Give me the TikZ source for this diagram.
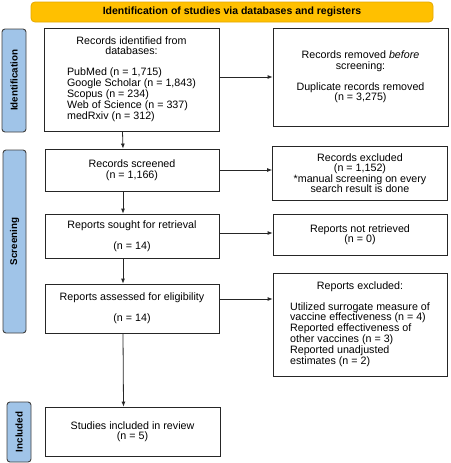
\documentclass[tikz,border=0pt]{standalone}
\usepackage{fontspec}
\setmainfont{Liberation Sans}
\usetikzlibrary{arrows.meta}

\definecolor{amarelo}{RGB}{255,192,0}
\definecolor{amareloborda}{RGB}{228,168,0}
\definecolor{azulfase}{RGB}{160,196,232}

\begin{document}
\begin{tikzpicture}[x=1pt, y=-1pt,
  caixa/.style={draw=black!85, line width=0.8pt, align=center, inner sep=2pt, font=\fontsize{10.7}{10.5}\selectfont},
  fase/.style={draw=black!75, line width=0.9pt, rounded corners=3pt, fill=azulfase, font=\fontsize{9.8}{10}\selectfont\bfseries},
  seta/.style={-{Latex[length=5pt,width=4pt]}, line width=0.8pt, draw=black!85}]
  \useasboundingbox (0,0) rectangle (450,463);

  % Faixa
  \node[draw=amareloborda, line width=0.8pt, rounded corners=4pt, fill=amarelo, minimum width=402pt, minimum height=20pt, font=\fontsize{10.5}{10}\selectfont\bfseries] (titulo) at (232,12) {Identification of studies via databases and registers};

  % Fases
  \node[fase, minimum width=103pt, minimum height=24pt, rotate=90] (fid) at (14,80.5) {Identification};
  \node[fase, minimum width=183pt, minimum height=23pt, rotate=90] (fscr) at (14.5,241.5) {Screening};
  \node[fase, minimum width=60pt, minimum height=24pt, rotate=90] (finc) at (19,432) {Included};

  % Nós
  \node[caixa, minimum width=175pt, minimum height=103pt] (ident) at (131.5,79.5) {Records identified from\\databases:\\[10.5pt]\begin{tabular}[t]{@{}l@{}}PubMed (n = 1,715)\\Google Scholar (n = 1,843)\\Scopus (n = 234)\\Web of Science (n = 337)\\medRxiv (n = 312)\end{tabular}};
  \node[caixa, minimum width=175pt, minimum height=98pt] (removed) at (360.5,77) {Records removed \textit{before}\\screening:\\[10.5pt]Duplicate records removed\\(n = 3,275)};
  \node[caixa, minimum width=174pt, minimum height=42pt] (screened) at (132,170) {Records screened\\(n = 1,166)};
  \node[caixa, minimum width=175pt, minimum height=54pt] (excluded) at (360,173) {Records excluded\\(n = 1,152)\\*manual screening on every\\search result is done};
  \node[caixa, minimum width=174pt, minimum height=44pt] (sought) at (132,236) {Reports sought for retrieval\\[10.5pt](n = 14)};
  \node[caixa, minimum width=174pt, minimum height=41pt] (notret) at (360,234.5) {Reports not retrieved\\(n = 0)};
  \node[caixa, minimum width=174pt, minimum height=49pt] (assessed) at (132,308.5) {Reports assessed for eligibility\\[10.5pt](n = 14)};
  \node[caixa, minimum width=174pt, minimum height=103pt] (rexcl) at (360,324.5) {Reports excluded:\\[10.5pt]\begin{tabular}[t]{@{}l@{}}Utilized surrogate measure of\\vaccine effectiveness (n = 4)\\Reported effectiveness of\\other vaccines (n = 3)\\Reported unadjusted\\estimates (n = 2)\end{tabular}};
  \node[caixa, minimum width=175pt, minimum height=49pt] (included) at (132.5,431.5) {Studies included in review\\(n = 5)};

  % Setas
  \coordinate (s4) at ([yshift=9.5pt]assessed.east);
  \draw[seta] (ident.east |- removed.west) -- (removed.west);
  \draw[seta] (screened.east) -- (screened.east -| excluded.west);
  \draw[seta] ([yshift=3pt]sought.east) -- ([yshift=3pt]sought.east -| notret.west);
  \draw[seta] (s4) -- (s4 -| rexcl.west);
  \draw[seta] ([xshift=-9pt]ident.south) -- ([xshift=-9pt]screened.north);
  \draw[seta] ([xshift=-9pt]screened.south) -- ([xshift=-9pt]sought.north);
  \draw[seta] ([xshift=-9pt]sought.south) -- ([xshift=-9pt]assessed.north);
  \draw[seta] ([xshift=-9pt]assessed.south) -- ([xshift=-9pt]included.north);
\end{tikzpicture}
\end{document}
